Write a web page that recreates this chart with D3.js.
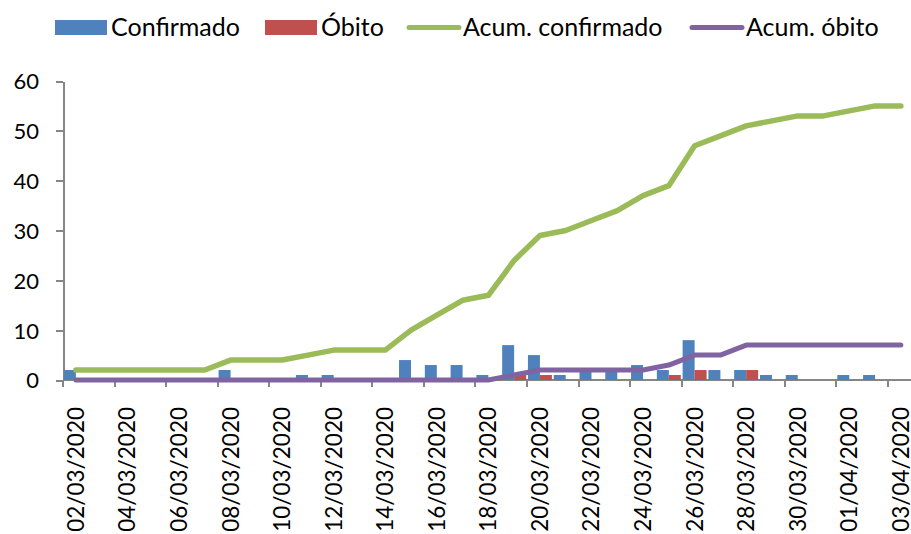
<!DOCTYPE html>
<html>
<head>
<meta charset="utf-8">
<title>Confirmados e óbitos</title>
<style>
  body { margin: 0; background: #fff; }
  svg { display: block; font-family: Lato, "Open Sans", sans-serif; }
  .axis { font-family: Lato, "Open Sans", sans-serif; }
  .axis path, .axis line { stroke: #868686; stroke-width: 2px; shape-rendering: crispEdges; }
  .axis text { fill: #000; }
  .legend text { font-size: 25px; fill: #000; }
</style>
<script src="https://cdn.jsdelivr.net/npm/d3@7"></script>
</head>
<body>
<script>
// categories (one per day)
var dates = ["02/03/2020","03/03/2020","04/03/2020","05/03/2020","06/03/2020","07/03/2020",
  "08/03/2020","09/03/2020","10/03/2020","11/03/2020","12/03/2020","13/03/2020","14/03/2020",
  "15/03/2020","16/03/2020","17/03/2020","18/03/2020","19/03/2020","20/03/2020","21/03/2020",
  "22/03/2020","23/03/2020","24/03/2020","25/03/2020","26/03/2020","27/03/2020","28/03/2020",
  "29/03/2020","30/03/2020","31/03/2020","01/04/2020","02/04/2020","03/04/2020"];

// daily values
var confirmado = [2,0,0,0,0,0,2,0,0,1,1,0,0,4,3,3,1,7,5,1,2,2,3,2,8,2,2,1,1,0,1,1,0];
var obito      = [0,0,0,0,0,0,0,0,0,0,0,0,0,0,0,0,0,1,1,0,0,0,0,1,2,0,2,0,0,0,0,0,0];

// cumulative values
var acumConfirmado = [2,2,2,2,2,2,4,4,4,5,6,6,6,10,13,16,17,24,29,30,32,34,37,39,47,49,51,52,53,53,54,55,55];
var acumObito      = [0,0,0,0,0,0,0,0,0,0,0,0,0,0,0,0,0,1,2,2,2,2,2,3,5,5,7,7,7,7,7,7,7];

var yTicks = [0,10,20,30,40,50,60];

var W = 911, H = 534;
var plotLeft = 63, step = 25.78, plotTop = 81, plotBottom = 380;

var svg = d3.select("body").append("svg")
    .attr("width", W)
    .attr("height", H);

var x = d3.scaleBand()
    .domain(dates)
    .range([plotLeft, plotLeft + step * dates.length])
    .paddingInner(0.07)
    .paddingOuter(0.035);

var xs = d3.scaleBand()
    .domain(["c", "o"])
    .range([0, x.bandwidth()]);

var y = d3.scaleLinear()
    .domain([0, 60])
    .range([plotBottom, plotTop]);

var cx = function(d) { return x(d) + x.bandwidth() / 2; };

// y axis
var yAxis = svg.append("g")
    .attr("class", "axis")
    .attr("transform", "translate(" + plotLeft + ",0)")
    .call(d3.axisLeft(y).tickValues(yTicks).tickSize(7).tickSizeOuter(0).tickPadding(17));
yAxis.attr("font-family", null);
yAxis.selectAll("text").style("font-size", "22px").attr("dy", "0.36em");

// x axis, ticks every 2 categories on boundaries
var xg = svg.append("g")
    .attr("class", "axis")
    .attr("transform", "translate(0," + plotBottom + ")");
xg.append("line")
    .attr("x1", plotLeft).attr("x2", W)
    .attr("y1", 0).attr("y2", 0);
xg.selectAll(".tk")
    .data(dates.filter(function(d, i) { return i % 2 === 0; }))
    .enter().append("line")
    .attr("class", "tk")
    .attr("x1", function(d) { return x(d) - x.step() * x.paddingInner() / 2; })
    .attr("x2", function(d) { return x(d) - x.step() * x.paddingInner() / 2; })
    .attr("y1", 0).attr("y2", 7);
xg.selectAll(".lb")
    .data(dates.filter(function(d, i) { return i % 2 === 0; }))
    .enter().append("text")
    .attr("class", "lb")
    .attr("transform", function(d) { return "translate(" + (cx(d) + 8) + ",27) rotate(-90)"; })
    .attr("text-anchor", "end")
    .style("font-size", "22.5px")
    .text(function(d) { return d; });

// bars
svg.append("g").selectAll("rect")
    .data(dates)
    .enter().append("rect")
    .attr("x", function(d) { return x(d) + xs("c"); })
    .attr("width", xs.bandwidth())
    .attr("y", function(d, i) { return y(confirmado[i]); })
    .attr("height", function(d, i) { return y(0) - y(confirmado[i]); })
    .attr("fill", "#4F81BD");

svg.append("g").selectAll("rect")
    .data(dates)
    .enter().append("rect")
    .attr("x", function(d) { return x(d) + xs("o"); })
    .attr("width", xs.bandwidth())
    .attr("y", function(d, i) { return y(obito[i]); })
    .attr("height", function(d, i) { return y(0) - y(obito[i]); })
    .attr("fill", "#C0504D");

// lines
var line = function(vals) {
  return d3.line()
    .x(function(d) { return cx(d); })
    .y(function(d, i) { return y(vals[i]); })(dates);
};

svg.append("path")
    .attr("d", line(acumConfirmado))
    .attr("fill", "none")
    .attr("stroke", "#9BBB59")
    .attr("stroke-width", 5.5)
    .attr("stroke-linejoin", "round")
    .attr("stroke-linecap", "round");

svg.append("path")
    .attr("d", line(acumObito))
    .attr("fill", "none")
    .attr("stroke", "#8064A2")
    .attr("stroke-width", 5)
    .attr("stroke-linejoin", "round")
    .attr("stroke-linecap", "round");

// legend
var legend = svg.append("g").attr("class", "legend");
var items = [
  {name: "Confirmado", color: "#4F81BD", type: "rect", x: 55},
  {name: "Óbito", color: "#C0504D", type: "rect", x: 265},
  {name: "Acum. confirmado", color: "#9BBB59", type: "line", x: 407},
  {name: "Acum. óbito", color: "#8064A2", type: "line", x: 690}
];
items.forEach(function(it) {
  if (it.type === "rect") {
    legend.append("rect")
      .attr("x", it.x).attr("y", 20)
      .attr("width", 52).attr("height", 15)
      .attr("fill", it.color);
  } else {
    legend.append("line")
      .attr("x1", it.x + 2).attr("x2", it.x + 52)
      .attr("y1", 27.5).attr("y2", 27.5)
      .attr("stroke", it.color)
      .attr("stroke-width", 5)
      .attr("stroke-linecap", "round");
  }
  legend.append("text")
    .attr("x", it.x + 56)
    .attr("y", 36)
    .text(it.name);
});
</script>
</body>
</html>
